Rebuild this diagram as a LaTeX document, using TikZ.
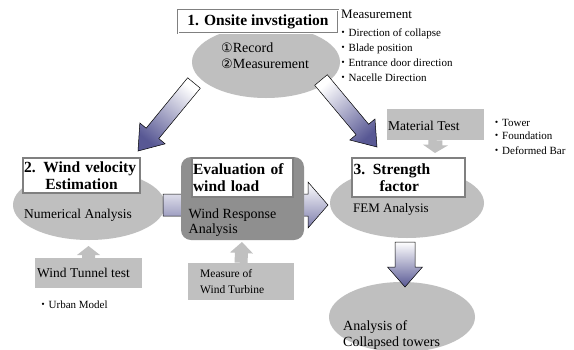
\documentclass[tikz,border=0pt]{standalone}
\usepackage{fontspec}
\setmainfont{Liberation Serif}
\newfontfamily\cjk{Noto Sans CJK JP}
\newfontfamily\dvs{DejaVu Sans}
\usetikzlibrary{shapes.geometric,calc}
\definecolor{blobgray}{RGB}{191,191,191}
\definecolor{boxgray}{RGB}{192,192,192}
\definecolor{midgray}{RGB}{143,143,143}
\definecolor{framegray}{RGB}{128,128,128}
\definecolor{arrowblue}{RGB}{88,88,148}
\definecolor{hblue}{RGB}{125,125,172}
\newcommand\fsz[2]{\fontsize{#1}{#2}\selectfont}
\newcommand\bul{{\cjk ・}}
% #1 style, #2 tail, #3 tip, #4 shaft half width, #5 head half width, #6 head length
\newcommand\blockarrow[6]{%
  \coordinate (ba-base) at ($(#3)!#6!(#2)$);
  \path[#1] ($(#2)!#4!90:(#3)$) -- ($(ba-base)!#4!90:(#3)$) -- ($(ba-base)!#5!90:(#3)$)
    -- (#3) -- ($(ba-base)!#5!-90:(#3)$) -- ($(ba-base)!#4!-90:(#3)$)
    -- ($(#2)!#4!-90:(#3)$) -- cycle;
}
\tikzset{
  blob/.style={ellipse, fill=blobgray, draw=none, inner sep=0pt},
  titlebox/.style={rectangle, draw=framegray, line width=1.3pt, fill=white, inner sep=0pt,
    font=\bfseries\fsz{15.5}{17}},
  graybox/.style={rectangle, fill=boxgray, draw=none, inner sep=0pt},
  bigarrow/.style={draw=black, line width=0.5pt, top color=white, bottom color=arrowblue},
  harrow/.style={draw=black, line width=0.5pt, top color=white, bottom color=hblue},
  smallarrow/.style={fill=boxgray, draw=none},
  txt/.style={anchor=base west, inner sep=0pt, font=\fsz{14}{16}},
  smalltxt/.style={anchor=base west, inner sep=0pt, font=\fsz{11}{14}},
}
\begin{document}
\begin{tikzpicture}[x=1pt, y=-1pt]
\useasboundingbox (0,0) rectangle (574,349);
\fill[white] (0,0) rectangle (574,349);

% ellipses
\node[blob, minimum width=148pt, minimum height=72pt] (e1) at (266,62) {};
\node[blob, minimum width=152pt, minimum height=70pt] (e2) at (89,205) {};
\node[blob, minimum width=154pt, minimum height=70pt] (e3) at (407,203) {};
\node[blob, minimum width=146pt, minimum height=70pt] (e4) at (402,317) {};

% big arrows
\coordinate (la-t) at (194,83);
\coordinate (la-h) at (138,151);
\coordinate (ra-t) at (321,80);
\coordinate (ra-h) at (377,147);
\coordinate (da-t) at (405,242);
\coordinate (da-h) at (405,287);
\coordinate (ha-t) at (163,205);
\coordinate (ha-h) at (328,205);
\blockarrow{bigarrow, shading angle=-39}{la-t}{la-h}{8.2pt}{16.4pt}{22.8pt}
\blockarrow{bigarrow, shading angle=42}{ra-t}{ra-h}{8.2pt}{16.4pt}{22.8pt}
\blockarrow{bigarrow}{da-t}{da-h}{10pt}{17.5pt}{20pt}
\blockarrow{harrow}{ha-t}{ha-h}{11pt}{23pt}{20pt}

% middle block
\node[fill=midgray, draw=none, rounded corners=10pt, minimum width=123pt, minimum height=83pt, inner sep=0pt] (mb) at (242.5,198.5) {};

% title boxes
\node[titlebox, line width=0.5pt, double=white, double distance=0.9pt, minimum width=160pt, minimum height=23pt] (b1) at (258,21.7) {1. Onsite invstigation};
\node[titlebox, minimum width=117pt, minimum height=35pt, text width=115pt, align=center] (b2) at (81.5,175.5)
  {\makebox[115pt][s]{2. Wind velocity}\\Estimation};
\node[titlebox, minimum width=101pt, minimum height=39pt, text width=99pt, align=left] (b4) at (242.5,177.5)
  {\makebox[99pt][s]{Evaluation of}\\wind load};
\node[titlebox, minimum width=113pt, minimum height=39pt, text width=110pt, align=left] (b3) at (408.5,177.5)
  {3. Strength\\\hspace*{26pt}factor};

% gray boxes
\node[graybox, minimum width=107pt, minimum height=30pt] (wt) at (88.5,273) {};
\node[graybox, minimum width=106pt, minimum height=37pt] (mw) at (241,281.5) {};
\node[graybox, minimum width=97pt, minimum height=31pt] (mt) at (435.5,124.5) {};

% small arrows
\coordinate (wt-h) at (88.5,246);
\coordinate (mw-h) at (242,242);
\coordinate (mt-h) at (435,153);
\blockarrow{smallarrow}{wt.north}{wt-h}{6.5pt}{11.5pt}{9pt}
\blockarrow{smallarrow}{mw.north}{mw-h}{6.5pt}{11.5pt}{11pt}
\blockarrow{smallarrow}{mt.south}{mt-h}{7pt}{12.5pt}{8pt}

% texts
\node[txt] (r1) at (221,52.7) {{\dvs\fsz{13}{16}①}Record};
\node[txt] (r2) at (221,68.3) {{\dvs\fsz{13}{16}②}Measurement};
\node[txt, font=\fsz{13}{15}] (m0) at (341,18) {Measurement};
\node[smalltxt] (m1) at (337.5,36.5) {\bul Direction of collapse};
\node[smalltxt] (m2) at (337.5,51.5) {\bul Blade position};
\node[smalltxt] (m3) at (337.5,66.5) {\bul Entrance door direction};
\node[smalltxt] (m4) at (337.5,81.5) {\bul Nacelle Direction};
\node[txt, font=\fsz{13.5}{16}] (na) at (24,218) {Numerical Analysis};
\node[txt] (wr1) at (188.5,218) {Wind Response};
\node[txt] (wr2) at (188.5,233.5) {Analysis};
\node[txt, font=\fsz{13}{16}] (fem) at (353,212) {FEM Analysis};
\node[txt] (ac1) at (343,330) {Analysis of};
\node[txt] (ac2) at (343,346) {Collapsed towers};
\node[txt, font=\fsz{13.5}{16}] (wtt) at (37,277) {Wind Tunnel test};
\node[txt, font=\fsz{11.5}{14}] (mw1) at (200,277) {Measure of};
\node[txt, font=\fsz{11.5}{14}] (mw2) at (200,293) {Wind Turbine};
\node[smalltxt] (um) at (37.5,308) {\bul Urban Model};
\node[txt, font=\fsz{13.5}{16}] (mtt) at (388,130) {Material Test};
\node[smalltxt] (mt1) at (491,126) {\bul Tower};
\node[smalltxt] (mt2) at (491,139.5) {\bul Foundation};
\node[smalltxt] (mt3) at (491,154) {\bul Deformed Bar};
\end{tikzpicture}
\end{document}
